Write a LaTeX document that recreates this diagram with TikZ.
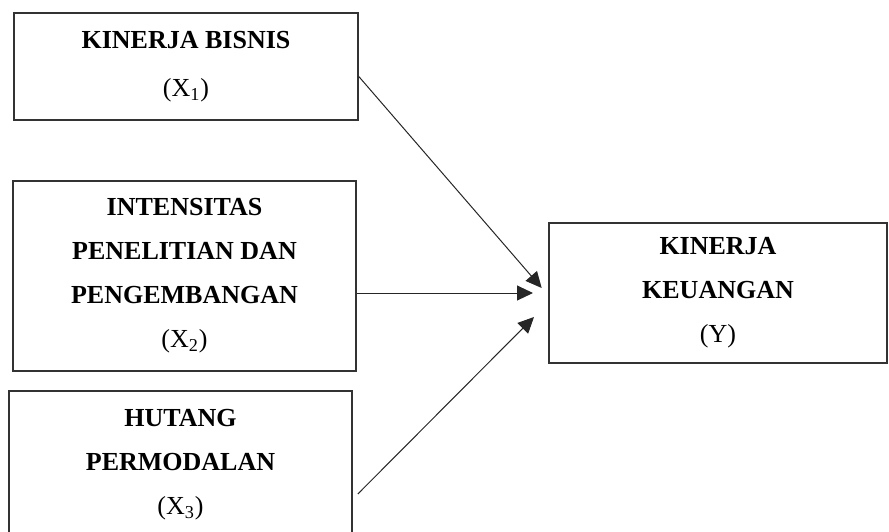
\documentclass[tikz,border=0pt]{standalone}
\usepackage{fontspec}
\setmainfont{Liberation Serif}
\usetikzlibrary{arrows.meta}
\tikzset{
  varbox/.style={rectangle,draw=black!80,line width=0.8pt,align=center,
    font=\fontsize{13}{22}\selectfont,inner sep=0pt},
  arr/.style={-{Triangle[length=8pt,width=7.5pt]},line width=0.5pt,color=black!85}
}
\newcommand{\vname}[1]{\textbf{#1}}

\begin{document}
\begin{tikzpicture}[x=0.5pt,y=-0.5pt]
  \useasboundingbox (0,0) rectangle (889,531);

  \node[varbox,minimum width=172pt,minimum height=53.5pt,
        font=\fontsize{13}{24}\selectfont] (bisnis) at (186,66.5)
    {\vname{KINERJA BISNIS}\\(X\textsubscript{1})};

  \node[varbox,minimum width=171.5pt,minimum height=95pt] (riset) at (184.5,276)
    {\vname{INTENSITAS}\\\vname{PENELITIAN DAN}\\\vname{PENGEMBANGAN}\\(X\textsubscript{2})};

  \node[varbox,minimum width=171.5pt,minimum height=74pt] (hutang) at (180.5,465)
    {\vname{HUTANG}\\\vname{PERMODALAN}\\(X\textsubscript{3})};

  \node[varbox,minimum width=169pt,minimum height=70pt] (keuangan) at (718,293)
    {\vname{KINERJA}\\\vname{KEUANGAN}\\(Y)};

  % arrow tips stop short of the target box
  \coordinate (tipA) at (541.7,288);
  \coordinate (tipB) at (533,293);
  \coordinate (tipC) at (534,317);

  \draw[arr] ([yshift=-5pt]bisnis.east) -- (tipA);
  \draw[arr] ([yshift=-8.5pt]riset.east) -- (tipB);
  \draw[arr] ([xshift=2.5pt,yshift=-14.5pt]hutang.east) -- (tipC);
\end{tikzpicture}
\end{document}
